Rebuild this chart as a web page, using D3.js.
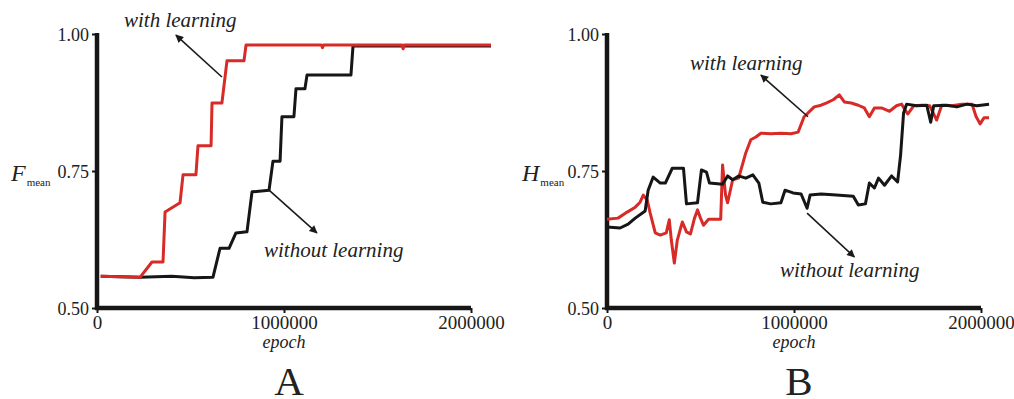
<!DOCTYPE html>
<html>
<head>
<meta charset="utf-8">
<script src="https://cdn.jsdelivr.net/npm/d3@7/dist/d3.min.js"></script>
<style>
  html, body { margin: 0; padding: 0; background: #fff; }
  svg { display: block; }
</style>
</head>
<body>
<svg id="chart" width="1014" height="399"></svg>
<script>
// ---------------- DATA ----------------
const xTicks = [0, 1000000, 2000000];
const yTicks = [0.50, 0.75, 1.00];

// Panel A: F_mean
const fWithEpoch = [20000, 230000, 294000, 353000, 364000, 444000, 460000, 529000, 540000, 610000, 615000, 668000, 695000, 786000, 797000, 1050000, 1200000, 1206000, 1212000, 1400000, 1631000, 1637000, 1643000, 1800000, 2107000];
const fWithValue = [0.558, 0.556, 0.584, 0.584, 0.675, 0.692, 0.743, 0.743, 0.796, 0.796, 0.874, 0.874, 0.951, 0.951, 0.980, 0.980, 0.980, 0.975, 0.980, 0.980, 0.980, 0.973, 0.980, 0.980, 0.980];

const fWithoutEpoch = [20000, 230000, 400000, 520000, 620000, 658000, 706000, 743000, 802000, 829000, 920000, 941000, 979000, 989000, 1053000, 1064000, 1112000, 1123000, 1358000, 1369000, 2107000];
const fWithoutValue = [0.558, 0.556, 0.558, 0.555, 0.556, 0.609, 0.609, 0.637, 0.639, 0.712, 0.715, 0.768, 0.768, 0.849, 0.849, 0.900, 0.900, 0.925, 0.925, 0.978, 0.978];

// Panel B: H_mean
const hWithEpoch = [0, 59000, 108000, 151000, 177000, 194000, 215000, 231000, 258000, 285000, 317000, 333000, 344000, 360000, 376000, 403000, 425000, 446000, 468000, 484000, 500000, 516000, 543000, 608000, 618000, 634000, 645000, 672000, 704000, 742000, 769000, 796000, 823000, 876000, 930000, 984000, 1022000, 1054000, 1081000, 1108000, 1145000, 1172000, 1210000, 1242000, 1269000, 1306000, 1344000, 1376000, 1403000, 1430000, 1468000, 1511000, 1548000, 1575000, 1608000, 1640000, 1683000, 1726000, 1763000, 1790000, 1844000, 1898000, 1952000, 1973000, 1995000, 2016000, 2043000];
const hWithValue = [0.662, 0.664, 0.675, 0.684, 0.693, 0.706, 0.697, 0.673, 0.637, 0.633, 0.637, 0.661, 0.624, 0.582, 0.624, 0.657, 0.639, 0.635, 0.664, 0.679, 0.664, 0.651, 0.662, 0.662, 0.761, 0.706, 0.692, 0.734, 0.737, 0.783, 0.807, 0.812, 0.819, 0.818, 0.819, 0.818, 0.821, 0.849, 0.858, 0.867, 0.870, 0.874, 0.880, 0.889, 0.876, 0.874, 0.870, 0.865, 0.849, 0.865, 0.865, 0.859, 0.869, 0.872, 0.854, 0.869, 0.870, 0.869, 0.843, 0.870, 0.869, 0.872, 0.872, 0.850, 0.836, 0.847, 0.847];

const hWithoutEpoch = [0, 70000, 113000, 151000, 204000, 220000, 247000, 285000, 312000, 349000, 409000, 425000, 484000, 505000, 532000, 548000, 618000, 645000, 672000, 704000, 742000, 780000, 812000, 833000, 876000, 930000, 952000, 995000, 1038000, 1070000, 1086000, 1145000, 1226000, 1317000, 1344000, 1382000, 1403000, 1430000, 1452000, 1484000, 1522000, 1554000, 1570000, 1586000, 1602000, 1656000, 1710000, 1731000, 1747000, 1817000, 1871000, 1925000, 1978000, 2043000];
const hWithoutValue = [0.648, 0.646, 0.653, 0.664, 0.677, 0.715, 0.739, 0.728, 0.728, 0.755, 0.755, 0.690, 0.692, 0.752, 0.748, 0.728, 0.726, 0.741, 0.734, 0.741, 0.737, 0.743, 0.728, 0.693, 0.690, 0.692, 0.715, 0.710, 0.708, 0.682, 0.706, 0.708, 0.706, 0.704, 0.688, 0.690, 0.728, 0.719, 0.737, 0.724, 0.741, 0.730, 0.779, 0.856, 0.872, 0.869, 0.870, 0.839, 0.869, 0.870, 0.867, 0.872, 0.869, 0.872];

// ---------------- DRAW ----------------
const svg = d3.select("#chart");
const RED = "#d82a26", BLACK = "#161616", TXT = "#222";
const SERIF = "'Liberation Serif', 'Times New Roman', serif";

svg.append("defs").append("marker")
  .attr("id", "ah").attr("viewBox", "0 0 10 10")
  .attr("refX", 9).attr("refY", 5)
  .attr("markerWidth", 11).attr("markerHeight", 8)
  .attr("markerUnits", "userSpaceOnUse")
  .attr("orient", "auto")
  .append("path").attr("d", "M0,0 L10,5 L0,10 Z").attr("fill", "#1a1a1a");

function panel(cfg) {
  const x = d3.scaleLinear().domain([0, 2000000]).range([cfg.x0, cfg.x0 + 374]);
  const y = d3.scaleLinear().domain([0.5, 1]).range([308, 34]);
  const g = svg.append("g");

  // axes
  const yAxis = d3.axisLeft(y).tickValues(yTicks).tickFormat(d3.format(".2f")).tickSize(5).tickPadding(3);
  const xAxis = d3.axisBottom(x).tickValues(xTicks).tickFormat(d3.format("d")).tickSize(5).tickPadding(2);
  const ya = g.append("g").attr("transform", `translate(${cfg.x0},0)`).call(yAxis);
  const xa = g.append("g").attr("transform", `translate(0,308)`).call(xAxis);
  [ya, xa].forEach(a => {
    a.select(".domain").remove();
    a.selectAll("line").attr("stroke", BLACK).attr("stroke-width", 2);
    a.selectAll("text").attr("fill", TXT).style("font-family", SERIF);
  });
  ya.selectAll("text").style("font-size", "18px").attr("dy", "0.34em");
  xa.selectAll("text").style("font-size", "19px").attr("dy", "0.76em");
  g.append("line").attr("x1", cfg.x0).attr("x2", cfg.x0).attr("y1", 33).attr("y2", 310)
    .attr("stroke", BLACK).attr("stroke-width", 4.5);
  g.append("line").attr("x1", cfg.x0 - 2).attr("x2", x(2000000)).attr("y1", 308).attr("y2", 308)
    .attr("stroke", BLACK).attr("stroke-width", 4.5);

  // lines
  const line = d3.line().x(d => x(d[0])).y(d => y(d[1]));
  cfg.series.forEach(s => {
    g.append("path").datum(d3.zip(s.ex, s.v)).attr("d", line)
      .attr("fill", "none").attr("stroke", s.color).attr("stroke-width", 3)
      .attr("stroke-linejoin", "round");
  });

  // annotations
  cfg.arrows.forEach(a => {
    g.append("line").attr("x1", x(a[0])).attr("y1", y(a[1])).attr("x2", x(a[2])).attr("y2", y(a[3]))
      .attr("stroke", "#1a1a1a").attr("stroke-width", 1.6).attr("marker-end", "url(#ah)");
  });
  cfg.labels.forEach(l => {
    g.append("text").attr("x", l[0]).attr("y", l[1]).text(l[2])
      .attr("fill", TXT).style("font-family", SERIF)
      .style("font-style", "italic").style("font-size", "21px");
  });

  // axis titles
  const yl = g.append("text").attr("x", cfg.ylabX).attr("y", 181).attr("fill", TXT)
    .style("font-family", SERIF);
  yl.append("tspan").text(cfg.ySym).style("font-style", "italic").style("font-size", "24px");
  yl.append("tspan").text("mean").attr("dy", 5).attr("dx", 1).style("font-size", "11px");

  g.append("text").attr("x", x(1000000)).attr("y", 348).attr("text-anchor", "middle")
    .text("epoch").attr("fill", TXT).style("font-family", SERIF)
    .style("font-style", "italic").style("font-size", "18px");
  g.append("text").attr("x", x(1000000) + 5).attr("y", 395).attr("text-anchor", "middle")
    .text(cfg.letter).attr("fill", TXT).style("font-family", SERIF)
    .style("font-size", "41px");
}

panel({
  x0: 97, ySym: "F", ylabX: 11, letter: "A",
  series: [
    { ex: fWithoutEpoch, v: fWithoutValue, color: BLACK },
    { ex: fWithEpoch, v: fWithValue, color: RED }
  ],
  arrows: [[668000, 0.9215, 422000, 0.998], [920000, 0.715, 1176000, 0.637]],
  labels: [[124, 27, "with learning"], [264, 257, "without learning"]]
});

panel({
  x0: 607, ySym: "H", ylabX: 522, letter: "B",
  series: [
    { ex: hWithEpoch, v: hWithValue, color: RED },
    { ex: hWithoutEpoch, v: hWithoutValue, color: BLACK }
  ],
  arrows: [[1075000, 0.849, 823000, 0.925], [1070000, 0.673, 1323000, 0.593]],
  labels: [[690, 70, "with learning"], [780, 277, "without learning"]]
});
</script>
</body>
</html>
